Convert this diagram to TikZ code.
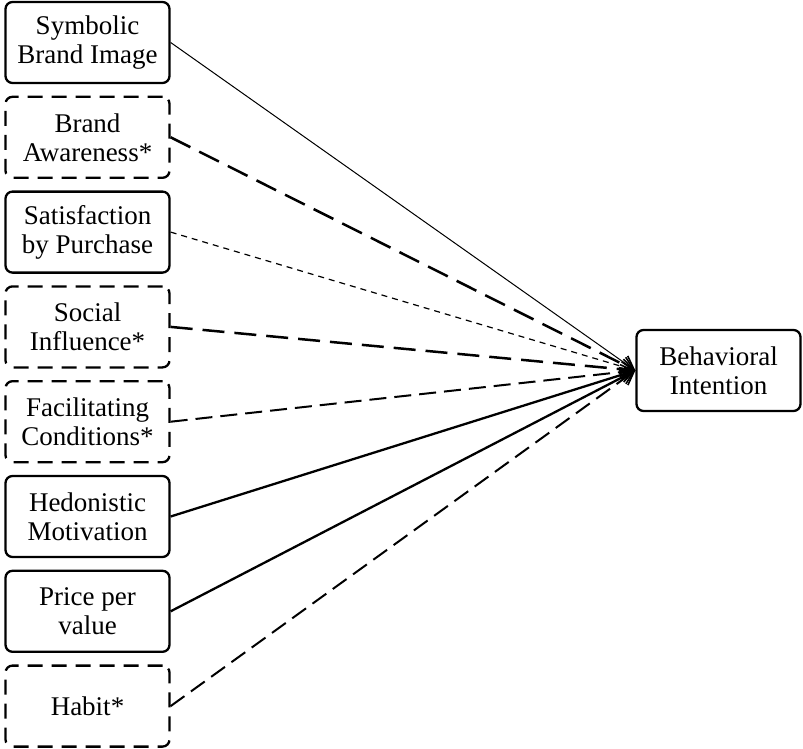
\documentclass[tikz,border=0pt]{standalone}
\usepackage{fontspec}
\setmainfont{Liberation Serif}
\usetikzlibrary{arrows.meta, positioning}

\begin{document}
\begin{tikzpicture}[
    x=1pt, y=-1pt,
    box/.style={rectangle, draw, line width=2.3pt, rounded corners=7pt, minimum width=164pt, minimum height=81pt, align=center, inner sep=0pt, font=\fontsize{27}{29}\selectfont},
    dbox/.style={box, dash pattern=on 15pt off 9pt},
    arrow/.style={-{Straight Barb[length=13pt, width=15pt, line width=1.6pt]}},
    thinlink/.style={line width=1pt},
    boldlink/.style={line width=2.3pt},
    longdash/.style={line width=2.5pt, dash pattern=on 22pt off 10pt},
    middash/.style={line width=2pt, dash pattern=on 17pt off 8pt},
    shortdash/.style={line width=1.2pt, dash pattern=on 6pt off 5pt}
]
    \useasboundingbox (0,0) rectangle (803,749);
    % Left column: predictors
    \node[box] (symb) at (87.5, 42.5) {Symbolic\\Brand Image};
    \node[dbox] (aware) at (87.5, 137.3) {Brand\\Awareness*};
    \node[box] (satis) at (87.5, 232.1) {Satisfaction\\by Purchase};
    \node[dbox] (social) at (87.5, 326.9) {Social\\Influence*};
    \node[dbox] (facil) at (87.5, 421.7) {Facilitating\\Conditions*};
    \node[box] (hedon) at (87.5, 516.5) {Hedonistic\\Motivation};
    \node[box] (price) at (87.5, 611.3) {Price per\\value};
    \node[dbox] (habit) at (87.5, 706.1) {Habit*};
    % Right: outcome
    \node[box] (intent) at (718.5, 370.5) {Behavioral\\Intention};
    \draw[arrow, thinlink] (symb.east) -- (intent.west);
    \draw[arrow, shortdash] (satis.east) -- (intent.west);
    \foreach \p in {aware, social} { \draw[arrow, longdash] (\p.east) -- (intent.west); }
    \foreach \p in {facil, habit} { \draw[arrow, middash] (\p.east) -- (intent.west); }
    \foreach \p in {hedon, price} { \draw[arrow, boldlink] (\p.east) -- (intent.west); }
\end{tikzpicture}
\end{document}
